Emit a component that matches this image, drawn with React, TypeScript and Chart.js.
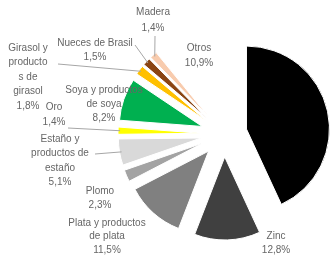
import React, { useEffect, useRef } from "react";
import { Chart, registerables } from "chart.js";

Chart.register(...registerables);

// ---- data ----
const categories = [
  "Gas natural",
  "Zinc",
  "Plata y productos de plata",
  "Plomo",
  "Estaño y productos de estaño",
  "Oro",
  "Soya y productos de soya",
  "Girasol y productos de girasol",
  "Nueces de Brasil",
  "Madera",
  "Otros",
];
const shares = [43.1, 12.8, 11.5, 2.3, 5.1, 1.4, 8.2, 1.8, 1.5, 1.4, 10.9];
const shareLabels = ["43,1%", "12,8%", "11,5%", "2,3%", "5,1%", "1,4%", "8,2%", "1,8%", "1,5%", "1,4%", "10,9%"];
const labelLines: (string[] | null)[] = [
  null,
  ["Zinc"],
  ["Plata y productos", "de plata"],
  ["Plomo"],
  ["Estaño y", "productos de", "estaño"],
  ["Oro"],
  ["Soya y productos", "de soya"],
  ["Girasol y", "producto", "s de", "girasol"],
  ["Nueces de Brasil"],
  ["Madera"],
  ["Otros"],
];

// ---- styles / layout ----
const colors = [
  "#000000",
  "#404040",
  "#808080",
  "#a3a3a3",
  "#d9d9d9",
  "#ffff00",
  "#00b050",
  "#ffc000",
  "#8b4513",
  "#f8cbad",
  "#ffffff",
];
const EXPLODE = 23;
// label placement: [centerX, firstLineY, lineHeight]
const labelPos: ([number, number, number] | null)[] = [
  null,
  [276, 236, 14],
  [107, 223, 13.5],
  [100, 191, 14],
  [60, 139, 14.5],
  [54, 107, 15],
  [104, 90, 14],
  [28, 48, 14.5],
  [95, 43, 14],
  [153, 12, 16],
  [199, 48, 15],
];
// leader line start points
const leaderStart: ([number, number] | null)[] = [
  null,
  null,
  null,
  null,
  [95, 154],
  [68, 128],
  null,
  [58, 64],
  [135, 45],
  [155, 36],
  null,
];

const explodePlugin = {
  id: "explodeSlices",
  beforeDatasetDraw(chart: any, args: any) {
    const ctx = chart.ctx;
    args.meta.data.forEach((arc: any) => {
      const mid = (arc.startAngle + arc.endAngle) / 2;
      ctx.save();
      ctx.translate(Math.cos(mid) * EXPLODE, Math.sin(mid) * EXPLODE);
      arc.draw(ctx);
      ctx.restore();
    });
    return false;
  },
};

const labelPlugin = {
  id: "sliceLabels",
  afterDatasetsDraw(chart: any) {
    const ctx = chart.ctx;
    const meta = chart.getDatasetMeta(0);
    ctx.save();
    meta.data.forEach((arc: any, i: number) => {
      const lp = leaderStart[i];
      if (lp) {
        const mid = (arc.startAngle + arc.endAngle) / 2;
        const r = arc.outerRadius + EXPLODE;
        const ex = arc.x + Math.cos(mid) * (r - 2);
        const ey = arc.y + Math.sin(mid) * (r - 2);
        ctx.strokeStyle = "#a6a6a6";
        ctx.lineWidth = 1;
        ctx.beginPath();
        ctx.moveTo(lp[0], lp[1]);
        ctx.lineTo(ex, ey);
        ctx.stroke();
      }
    });
    ctx.fillStyle = "#666666";
    ctx.font = '10px "Liberation Sans", Arial, sans-serif';
    ctx.textAlign = "center";
    ctx.textBaseline = "middle";
    meta.data.forEach((_arc: any, i: number) => {
      const pos = labelPos[i];
      const lines = labelLines[i];
      if (!pos || !lines) return;
      const all = [...lines, shareLabels[i]];
      all.forEach((t, k) => ctx.fillText(t, pos[0], pos[1] + k * pos[2]));
    });
    ctx.restore();
  },
};

export default function App() {
  const ref = useRef<HTMLCanvasElement | null>(null);
  useEffect(() => {
    document.body.style.margin = "0";
    const chart = new Chart(ref.current as HTMLCanvasElement, {
      type: "pie",
      data: {
        labels: categories,
        datasets: [
          {
            data: shares,
            backgroundColor: colors,
            borderColor: "#ffffff",
            borderWidth: 1,
            radius: 83,
            clip: false as any,
          },
        ],
      },
      options: {
        responsive: false,
        animation: false,
        devicePixelRatio: 1,
        layout: { padding: { left: 117, top: 6, right: 0, bottom: 0 } },
        plugins: { legend: { display: false }, tooltip: { enabled: false } },
      },
      plugins: [explodePlugin, labelPlugin],
    });
    return () => chart.destroy();
  }, []);
  return (
    <div style={{ width: 331, height: 262, overflow: "hidden", background: "#fff" }}>
      <canvas ref={ref} width={331} height={262} style={{ display: "block" }} />
    </div>
  );
}
